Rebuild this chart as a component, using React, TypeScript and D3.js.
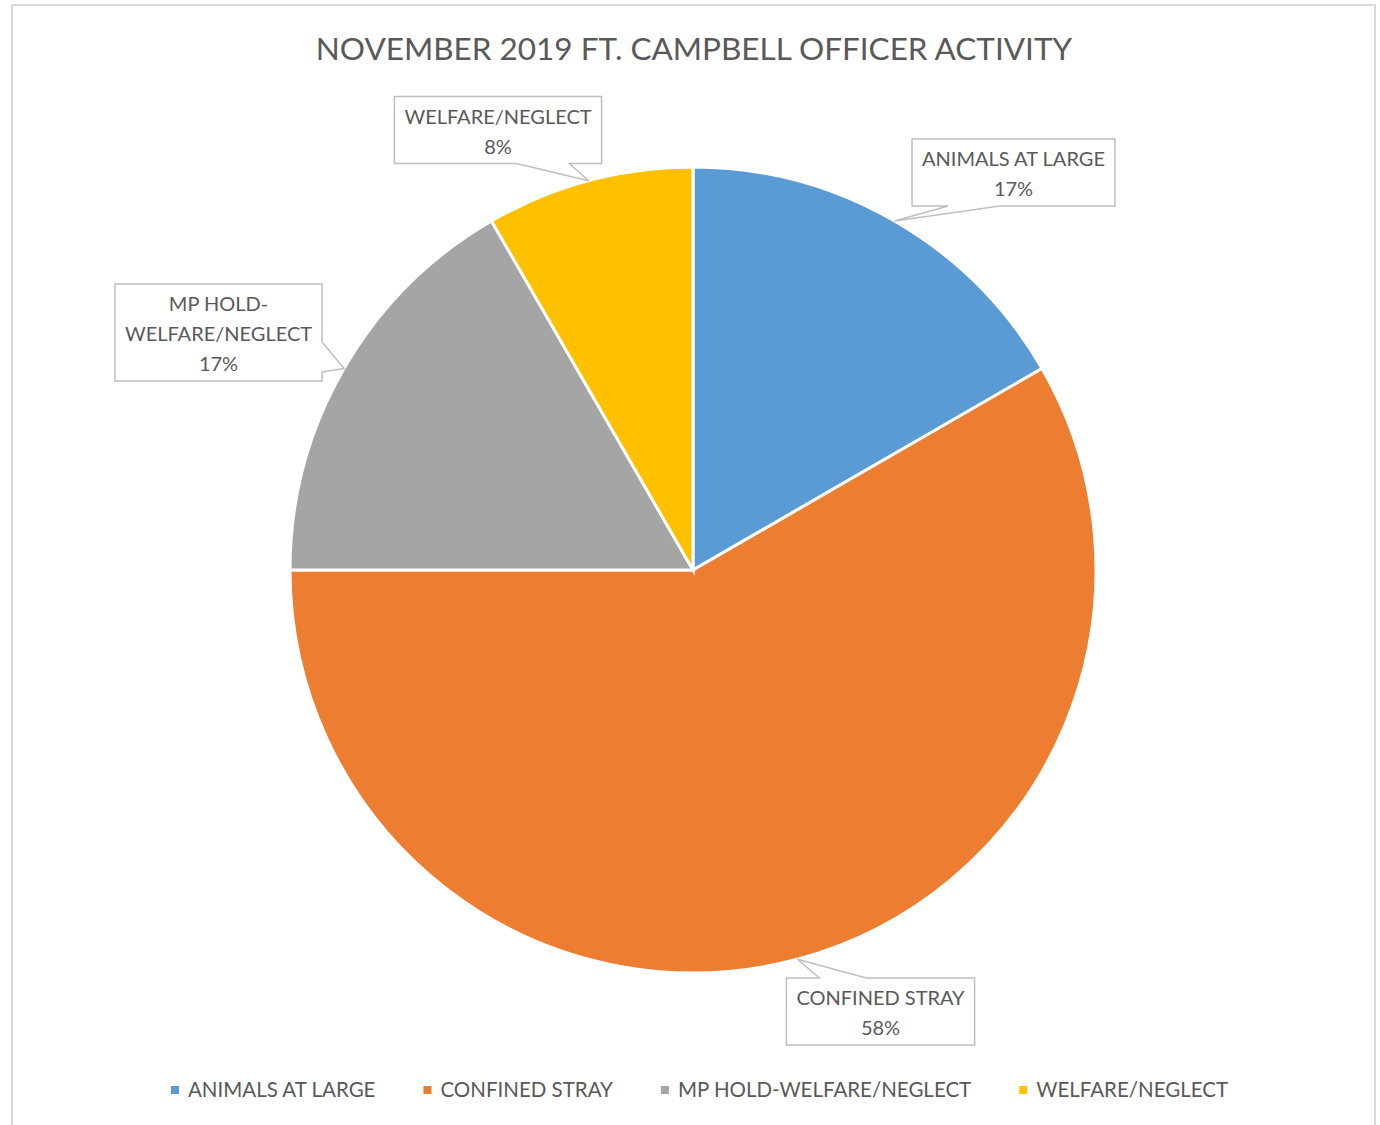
import * as d3 from 'd3'
import { useEffect, useRef } from 'react'

const title = 'NOVEMBER 2019 FT. CAMPBELL OFFICER ACTIVITY'
const categories = [
  'ANIMALS AT LARGE',
  'CONFINED STRAY',
  'MP HOLD-WELFARE/NEGLECT',
  'WELFARE/NEGLECT',
]
const counts = [2, 7, 2, 1]
const colors = ['#5B9BD5', '#ED7D31', '#A5A5A5', '#FFC000']
const labelLines = [
  ['ANIMALS AT LARGE'],
  ['CONFINED STRAY'],
  ['MP HOLD-', 'WELFARE/NEGLECT'],
  ['WELFARE/NEGLECT'],
]

// callout boxes: centre, side the pointer leaves from, and where along that side
const callouts = [
  { cx: 1013.5, cy: 172.5, side: 'bottom', a: 36, b: 88 },
  { cx: 880.5, cy: 1011.5, side: 'top', a: 33, b: 80 },
  { cx: 218.5, cy: 332.5, side: 'right', a: 58, b: 88 },
  { cx: 498, cy: 130, side: 'bottom', a: 122, b: 175 },
]

const FONT = 'Lato, "Open Sans", sans-serif'
const TEXT = '#595959'

export default function App() {
  const svgRef = useRef<SVGSVGElement>(null)

  useEffect(() => {
    if (!svgRef.current) return
    d3.select(svgRef.current).selectAll('*').remove()

    const width = 1380
    const height = 1125
    const svg = d3.select(svgRef.current).attr('width', width).attr('height', height)

    svg.append('rect').attr('width', width).attr('height', height).attr('fill', '#fff')

    // chart frame
    svg
      .append('rect')
      .attr('x', 12)
      .attr('y', 5)
      .attr('width', 1363)
      .attr('height', 1140)
      .attr('fill', 'none')
      .attr('stroke', '#D9D9D9')
      .attr('stroke-width', 2)

    // Title
    svg
      .append('text')
      .attr('x', 694)
      .attr('y', 60)
      .attr('text-anchor', 'middle')
      .style('font-family', FONT)
      .style('font-size', '31.5px')
      .style('fill', TEXT)
      .text(title)

    const cx = 693
    const cy = 570
    const radius = 403

    const pie = d3
      .pie<number>()
      .sort(null)
      .value(d => d)
    const arcs = pie(counts)
    const arc = d3.arc<d3.PieArcDatum<number>>().innerRadius(0).outerRadius(radius)
    const edge = d3.arc<d3.PieArcDatum<number>>().innerRadius(radius).outerRadius(radius)

    const g = svg.append('g').attr('transform', `translate(${cx},${cy})`)
    g.selectAll('path.slice')
      .data(arcs)
      .enter()
      .append('path')
      .attr('class', 'slice')
      .attr('d', arc)
      .attr('fill', (d, i) => colors[i])
      .attr('stroke', '#fff')
      .attr('stroke-width', 3)

    const total = d3.sum(counts)
    const pct = d3.format('.0%')

    // Data label callouts
    arcs.forEach((d, i) => {
      const c = callouts[i]
      const lines = [...labelLines[i], pct(counts[i] / total)]
      const lg = svg.append('g')
      const texts = lines.map(line =>
        lg
          .append('text')
          .attr('text-anchor', 'middle')
          .style('font-family', FONT)
          .style('font-size', '20px')
          .style('fill', TEXT)
          .text(line)
      )
      const tw = Math.max(...texts.map(t => (t.node() as SVGTextElement).getComputedTextLength()))
      const bw = tw + 20
      const bh = lines.length * 30 + 7
      const x0 = c.cx - bw / 2
      const y0 = c.cy - bh / 2
      const x1 = x0 + bw
      const y1 = y0 + bh
      texts.forEach((t, k) => t.attr('x', c.cx).attr('y', y0 + 27 + k * 30))

      const [tx, ty] = edge.centroid(d)
      const tip: [number, number] = [cx + tx, cy + ty]
      let pts: [number, number][]
      if (c.side === 'bottom') {
        pts = [[x0, y0], [x1, y0], [x1, y1], [x0 + c.b, y1], tip, [x0 + c.a, y1], [x0, y1]]
      } else if (c.side === 'top') {
        pts = [[x0, y0], [x0 + c.a, y0], tip, [x0 + c.b, y0], [x1, y0], [x1, y1], [x0, y1]]
      } else {
        pts = [[x0, y0], [x1, y0], [x1, y0 + c.a], tip, [x1, y0 + c.b], [x1, y1], [x0, y1]]
      }
      lg.insert('path', 'text')
        .attr('d', d3.line()(pts) + 'Z')
        .attr('fill', '#fff')
        .attr('stroke', '#BFBFBF')
        .attr('stroke-width', 1.5)
    })

    // Legend
    const legend = svg.append('g')
    const items = categories.map((name, i) => {
      const item = legend.append('g')
      item
        .append('rect')
        .attr('y', 1086)
        .attr('width', 8)
        .attr('height', 8)
        .attr('fill', colors[i])
      const t = item
        .append('text')
        .attr('x', 17)
        .attr('y', 1097)
        .style('font-family', FONT)
        .style('font-size', '20.5px')
        .style('fill', TEXT)
        .text(name)
      return { item, w: 17 + (t.node() as SVGTextElement).getComputedTextLength() }
    })
    const gap = 48
    const legendW = d3.sum(items, d => d.w) + gap * (items.length - 1)
    let lx = 699.5 - legendW / 2
    items.forEach(d => {
      d.item.attr('transform', `translate(${lx},0)`)
      lx += d.w + gap
    })
  }, [])

  return (
    <svg
      ref={svgRef}
      style={{ position: 'absolute', left: 0, top: 0, display: 'block' }}
    ></svg>
  )
}
